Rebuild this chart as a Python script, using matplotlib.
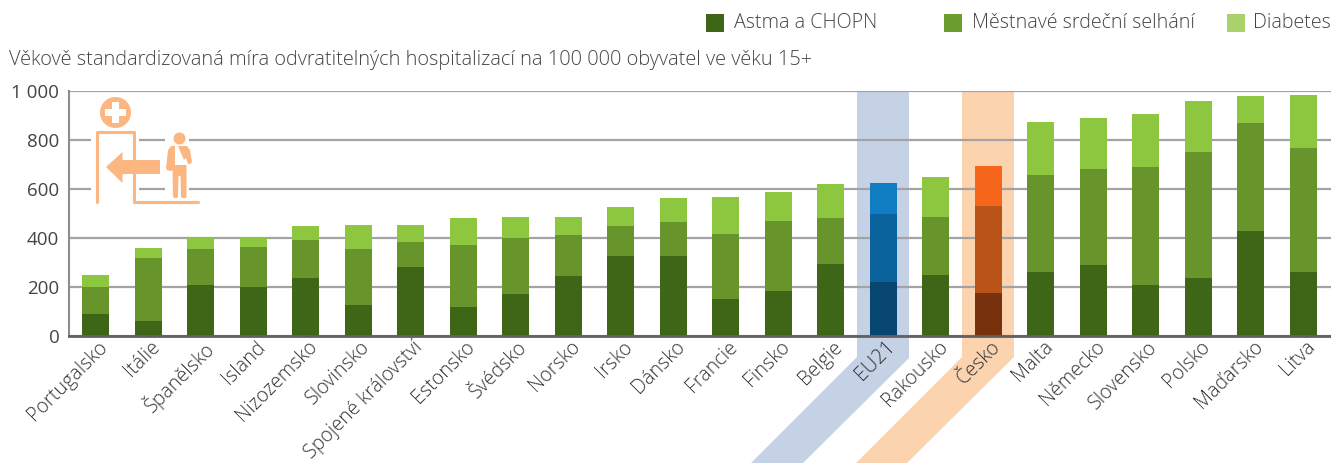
"""
Odvratitelne hospitalizace, stacked bars with highlighted EU21 and Cesko.
"""

import matplotlib
matplotlib.use("Agg")
import matplotlib.pyplot as plt
from matplotlib.patches import Polygon, Rectangle
from matplotlib.transforms import ScaledTranslation
import numpy as np

plt.rcParams['font.family'] = ['Open Sans', 'DejaVu Sans']

countries = ['Portugalsko', 'Itálie', 'Španělsko', 'Island', 'Nizozemsko', 'Slovinsko',
             'Spojené království', 'Estonsko', 'Švédsko', 'Norsko', 'Irsko', 'Dánsko',
             'Francie', 'Finsko', 'Belgie', 'EU21', 'Rakousko', 'Česko', 'Malta',
             'Německo', 'Slovensko', 'Polsko', 'Maďarsko', 'Litva']
astma = [90, 62, 210, 200, 235, 128, 280, 120, 170, 243, 328, 325,
         150, 183, 292, 222, 247, 175, 260, 290, 210, 235, 427, 262]
srdce = [110, 256, 145, 162, 155, 227, 102, 250, 232, 169, 120, 140,
         268, 287, 188, 275, 238, 355, 397, 392, 480, 517, 443, 505]
diabetes = [50, 40, 47, 43, 57, 97, 73, 110, 82, 73, 77, 97,
            149, 117, 140, 128, 163, 163, 216, 208, 217, 208, 110, 218]
yticks = [0, 200, 400, 600, 800, 1000]
yticklabels = ['0', '200', '400', '600', '800', '1 000']
legend_labels = ['Astma a CHOPN', 'Městnavé srdeční selhání', 'Diabetes']

W, H = 1331, 463
GREENS = ['#3f6516', '#68952b', '#8dc63f']
BLUES = ['#084672', '#0b639d', '#107cc2']
ORANGES = ['#77310d', '#b95318', '#f5661a']
LEGEND_COLORS = ['#3f6518', '#6b9e2f', '#a9d26d']
ICON = '#fbb682'
TEXT = '#444444'


def fx(x):
    return x / W


def fy(y):
    return 1 - y / H


def px(points):
    """ Pixel coordinates of the reference -> figure fractions """
    return [(fx(x), fy(y)) for x, y in points]


fig = plt.figure(figsize=(W / 100, H / 100), dpi=100)
ax = fig.add_axes([fx(69), fy(336), fx(1331 - 69), (336 - 91) / H])
ax.patch.set_alpha(0)

# highlight bands, under everything else
bands = [([(857, 91), (909, 91), (909, 358), (803, 463), (751, 463), (857, 357)], '#c5d2e6'),
         ([(962, 91), (1014, 91), (1014, 357), (907, 463), (856, 463), (962, 357)], '#fcd3af')]
for pts, col in bands:
    fig.add_artist(Polygon(px(pts), closed=True, transform=fig.transFigure,
                           facecolor=col, edgecolor='none', zorder=-5))

x_pos = np.arange(len(countries))
colors = []
for name in countries:
    if name == 'EU21':
        colors.append(BLUES)
    elif name == 'Česko':
        colors.append(ORANGES)
    else:
        colors.append(GREENS)
colors = np.array(colors)

bottom = np.zeros(len(countries))
for i, values in enumerate([astma, srdce, diabetes]):
    ax.bar(x_pos, values, 0.515, bottom=bottom, color=list(colors[:, i]), zorder=3)
    bottom += np.array(values)

ax.set_xlim(-0.51, 23.53)
ax.set_ylim(0, 1000)
ax.set_yticks(yticks)
ax.set_yticklabels(yticklabels, fontsize=13.5, color=TEXT)
ax.set_xticks(x_pos)
ax.set_xticklabels(countries, rotation=45, ha='right', va='top', rotation_mode='anchor',
                   fontsize=14.1, color='#333333', fontweight='light')
ax.tick_params(axis='x', length=0, pad=0)
ax.tick_params(axis='y', length=0, pad=7)
# labels sit a little to the right of the bar centre
shift = ScaledTranslation(2 / 100, -1 / 100, fig.dpi_scale_trans)
for lab in ax.get_xticklabels():
    lab.set_transform(lab.get_transform() + shift)
ax.grid(axis='y', color='#a3a3a3', linewidth=1.6, zorder=1)
ax.set_axisbelow(True)
for side in ['top', 'right']:
    ax.spines[side].set_visible(False)
ax.spines['left'].set_color('#8c8c8c')
ax.spines['left'].set_linewidth(1.5)
ax.spines['bottom'].set_color('#606060')
ax.spines['bottom'].set_linewidth(2)
ax.spines['bottom'].set_zorder(4)

# title and legend
fig.text(fx(9), fy(60), 'Věkově standardizovaná míra odvratitelných hospitalizací na 100 000 obyvatel ve věku 15+',
         fontsize=14.45, color=TEXT, va='center', ha='left', fontweight='light')
for x0, label, col, tx in zip([706, 944, 1227], legend_labels, LEGEND_COLORS, [734, 972, 1253]):
    fig.add_artist(Rectangle((fx(x0), fy(32)), 18 / W, 18 / H, transform=fig.transFigure,
                             facecolor=col, edgecolor='none'))
    fig.text(fx(tx), fy(23), label, fontsize=14.1, color=TEXT, va='center', ha='left', fontweight='light')

# hospital icon, over the gridlines
tf = fig.transFigure
fig.add_artist(Rectangle((fx(91), fy(202)), 48 / W, 72 / H, transform=tf, facecolor='white', edgecolor='none', zorder=5))
fig.add_artist(Rectangle((fx(165), fy(202)), 24 / W, 72 / H, transform=tf, facecolor='white', edgecolor='none', zorder=5))
door = [(97, 202), (97, 131.5), (134, 131.5), (134, 202), (198, 202)]
fig.add_artist(plt.Line2D([p[0] for p in px(door)], [p[1] for p in px(door)], transform=tf, color=ICON,
                          linewidth=2.2, solid_capstyle='round', solid_joinstyle='round', zorder=6))
fig.add_artist(Polygon(px([(106, 167), (122.5, 152), (122.5, 160), (160, 160), (160, 174), (122.5, 174), (122.5, 183)]),
                       closed=True, transform=tf, facecolor=ICON, edgecolor='none', zorder=6))
# head circles as polygons so that they stay round in figure fractions
theta = np.linspace(0, 2 * np.pi, 60)
def circle(cx, cy, r):
    return px(list(zip(cx + r * np.cos(theta), cy + r * np.sin(theta))))
fig.add_artist(Polygon(circle(115.5, 112.5, 15.5), closed=True, transform=tf, facecolor=ICON, edgecolor='none', zorder=6))
fig.add_artist(Polygon(px([(112, 102), (119, 102), (119, 109), (126, 109), (126, 116), (119, 116),
                           (119, 123), (112, 123), (112, 116), (105, 116), (105, 109), (112, 109)]),
                       closed=True, transform=tf, facecolor='white', edgecolor='none', zorder=7))
fig.add_artist(Polygon(circle(179.5, 138.5, 6), closed=True, transform=tf, facecolor=ICON, edgecolor='none', zorder=6))
body = [(171, 146), (175, 146), (175, 165), (186.5, 165), (186.5, 197), (185, 198), (182, 198), (181, 196), (180.5, 176),
        (178.5, 176), (178, 196), (177, 198), (174, 198), (173, 196), (172.5, 170), (171, 171), (170, 171), (167, 170), (166, 168),
        (168, 150)]
sling = [(178, 146), (187, 146), (190, 150), (192, 162), (190, 164), (188, 164), (186, 158), (184, 160)]
for pts in [body, sling]:
    fig.add_artist(Polygon(px(pts), closed=True, transform=tf, facecolor=ICON, edgecolor='none', zorder=6))

fig.savefig('out.png', dpi=100)
